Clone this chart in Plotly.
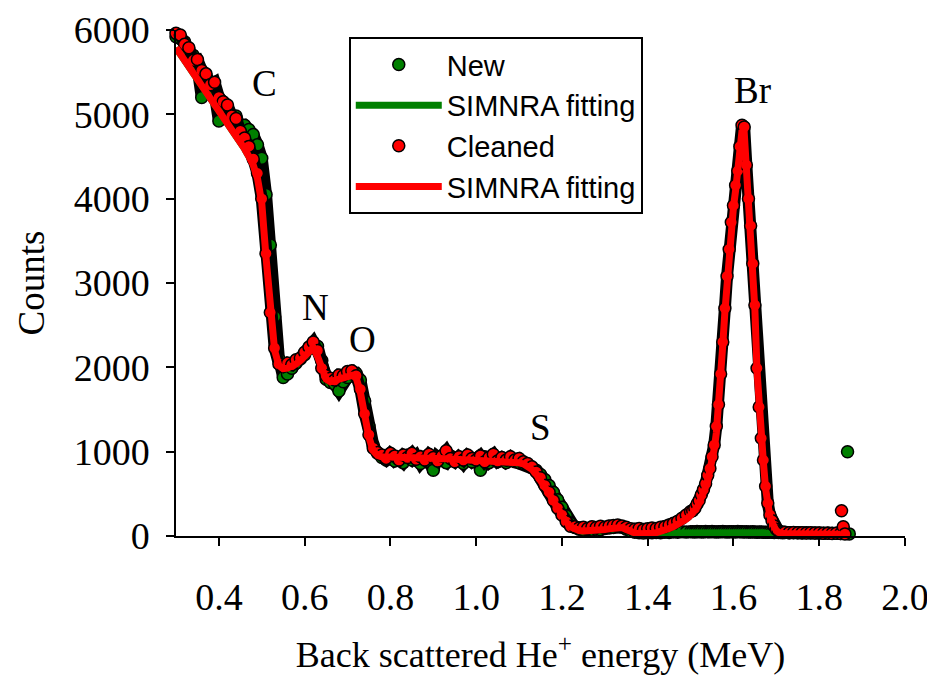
import plotly.graph_objects as go

# ---------------- data ----------------
energy = [
    0.30, 0.31, 0.32, 0.33, 0.34, 0.35, 0.36, 0.37, 0.38, 0.39,
    0.40, 0.41, 0.42, 0.43, 0.44, 0.45, 0.46, 0.47, 0.48, 0.49,
    0.50, 0.51, 0.52, 0.53, 0.54, 0.55, 0.56, 0.57, 0.58, 0.59,
    0.60, 0.61, 0.62, 0.63, 0.64, 0.65, 0.66, 0.67, 0.68, 0.69,
    0.70, 0.71, 0.72, 0.73, 0.74, 0.75, 0.76, 0.77, 0.78, 0.79,
    0.80, 0.81, 0.82, 0.83, 0.84, 0.85, 0.86, 0.87, 0.88, 0.89,
    0.90, 0.91, 0.92, 0.93, 0.94, 0.95, 0.96, 0.97, 0.98, 0.99,
    1.00, 1.01, 1.02, 1.03, 1.04, 1.05, 1.06, 1.07, 1.08, 1.09,
    1.10, 1.11, 1.12, 1.13, 1.14, 1.15, 1.16, 1.17, 1.18, 1.19,
    1.20, 1.21, 1.22, 1.23, 1.24, 1.25, 1.26, 1.27, 1.28, 1.29,
    1.30, 1.31, 1.32, 1.33, 1.34, 1.35, 1.36, 1.37, 1.38, 1.39,
    1.40, 1.41, 1.42, 1.43, 1.44, 1.45, 1.46, 1.47, 1.48, 1.49,
    1.50,
    1.505, 1.51, 1.515, 1.52, 1.525, 1.53, 1.535, 1.54, 1.545, 1.55,
    1.555, 1.56, 1.565, 1.57, 1.575, 1.58, 1.585, 1.59, 1.595, 1.60,
    1.605, 1.61, 1.615, 1.62, 1.625, 1.63, 1.635, 1.64, 1.645, 1.65,
    1.655, 1.66, 1.665, 1.67, 1.675, 1.68, 1.685, 1.69, 1.695, 1.70,
    1.705, 1.71, 1.715, 1.72,
    1.73, 1.74, 1.75, 1.76, 1.77, 1.78, 1.79, 1.80, 1.81, 1.82,
    1.83, 1.84, 1.85,
]

counts_new = [
    5920, 5900, 5860, 5720, 5700, 5560, 5200, 5420, 5300, 5250,
    4920, 5100, 5050, 4900, 4980, 4850, 4870, 4820, 4760, 4640,
    4480, 4050, 3450, 2600, 2100, 1880, 1920, 1990, 2050, 2100,
    2150, 2230, 2280, 2250, 2080, 1860, 1820, 1800, 1720, 1830,
    1880, 1920, 1930, 1850, 1600, 1300, 1080, 980, 930, 900,
    950, 890, 920, 870, 940, 900, 950, 860, 920, 880,
    780, 940, 900, 870, 950, 900, 920, 860, 930, 880,
    920, 780, 940, 870, 910, 880, 920, 870, 900, 880,
    870, 860, 840, 810, 780, 730, 670, 600, 520, 430,
    340, 240, 150, 100, 80, 70, 75, 70, 80, 75,
    90, 95, 100, 110, 105, 80, 60, 45, 40, 35,
    40, 38, 42, 40, 45, 42, 48, 45, 50, 46,
    50,
    50, 47, 52, 49, 51, 48, 53, 50, 49, 52,
    50, 48, 51, 49, 52, 50, 47, 51, 49, 50,
    48, 52, 50, 49, 47, 50, 48, 46, 49, 47,
    45, 48, 46, 44, 45, 43, 46, 44, 42, 43,
    41, 42, 40, 41,
    40, 38, 39, 37, 38, 36, 35, 37, 34, 35,
    33, 32, 30,
]
energy_new_tail = [1.86, 1.866, 1.87]
counts_new_tail = [35, 1000, 25]

counts_cleaned = [
    5960, 5940, 5830, 5790, 5640, 5650, 5520, 5480, 5350, 5380,
    5200, 5150, 5110, 4980, 4950, 4800, 4720, 4620, 4470, 4300,
    4000, 3350, 2650, 2230, 2040, 2010, 2050, 2030, 2090, 2110,
    2180, 2240, 2300, 2200, 1990, 1900, 1870, 1850, 1910, 1900,
    1950, 1960, 1900, 1740, 1450, 1200, 1040, 990, 960, 920,
    980, 950, 900, 960, 930, 980, 910, 940, 900, 970,
    930, 890, 950, 1010, 920, 880, 940, 900, 960, 920,
    900, 950, 880, 930, 970, 890, 930, 900, 940, 900,
    920, 880, 860, 820, 760, 690, 600, 520, 420, 330,
    250, 170, 115, 110, 95, 105, 90, 110, 100, 115,
    105, 120, 125, 130, 120, 105, 85, 80, 90, 75,
    85, 95, 90, 105, 110, 130, 150, 175, 210, 250,
    290,
    300, 330, 380, 420, 490, 550, 620, 720, 800, 940,
    1080, 1300, 1560, 1920, 2300, 2700, 3080, 3400, 3720, 3920,
    4160, 4330, 4620, 4870, 4850, 4400, 4000, 3680, 3230, 2740,
    1990, 1530, 1160, 900, 590, 390, 250, 180, 120, 80,
    60, 50, 45, 45,
    40, 42, 38, 40, 36, 38, 35, 36, 33, 34,
    30, 32, 30,
]
energy_cleaned_tail = [1.852, 1.856, 1.86]
counts_cleaned_tail = [300, 110, 25]

fit_cleaned = [
    5790, 5715, 5640, 5560, 5485, 5410, 5335, 5265, 5190, 5125,
    5055, 4985, 4920, 4845, 4765, 4680, 4590, 4500, 4400, 4240,
    3950, 3300, 2620, 2200, 2020, 1985, 1990, 2010, 2040, 2080,
    2130, 2190, 2235, 2130, 1960, 1860, 1830, 1840, 1860, 1875,
    1890, 1905, 1880, 1700, 1420, 1170, 1010, 955, 940, 937,
    935, 933, 932, 930, 929, 927, 926, 924, 923, 921,
    920, 918, 917, 915, 914, 912, 911, 909, 908, 906,
    905, 903, 902, 900, 898, 896, 893, 889, 884, 877,
    868, 855, 830, 790, 735, 665, 590, 505, 415, 325,
    240, 165, 110, 80, 65, 60, 60, 63, 67, 72,
    78, 85, 95, 105, 100, 78, 52, 36, 28, 25,
    27, 32, 40, 52, 68, 88, 110, 135, 165, 200,
    245,
    270, 300, 340, 390, 445, 510, 580, 660, 760, 880,
    1030, 1220, 1500, 1860, 2260, 2660, 3020, 3370, 3660, 3900,
    4100, 4300, 4570, 4810, 4790, 4350, 3960, 3620, 3200, 2680,
    1950, 1480, 1130, 860, 560, 360, 230, 160, 100, 62,
    42, 33, 29, 27,
    26, 25, 25, 24, 24, 23, 23, 22, 22, 21,
    21, 20, 20,
]

fit_new = [
    5790, 5715, 5640, 5560, 5485, 5410, 5335, 5265, 5190, 5125,
    5055, 4985, 4920, 4845, 4765, 4680, 4590, 4500, 4400, 4240,
    3950, 3300, 2620, 2200, 2020, 1985, 1990, 2010, 2040, 2080,
    2130, 2190, 2235, 2130, 1960, 1860, 1830, 1840, 1860, 1875,
    1890, 1905, 1880, 1700, 1420, 1170, 1010, 955, 940, 937,
    935, 933, 932, 930, 929, 927, 926, 924, 923, 921,
    920, 918, 917, 915, 914, 912, 911, 909, 908, 906,
    905, 903, 902, 900, 898, 896, 893, 889, 884, 877,
    868, 855, 830, 790, 735, 665, 590, 505, 415, 325,
    240, 165, 110, 80, 65, 60, 60, 63, 67, 72,
    78, 85, 95, 105, 100, 78, 52, 36, 30, 28,
    28, 30, 32, 34, 36, 37, 38, 39, 40, 40,
    41,
    41, 41, 41, 41, 41, 41, 41, 41, 41, 41,
    41, 41, 41, 41, 41, 40, 40, 40, 40, 40,
    40, 40, 40, 40, 40, 39, 39, 39, 39, 39,
    38, 38, 38, 38, 37, 37, 37, 37, 36, 36,
    36, 36, 35, 35,
    34, 33, 32, 31, 30, 29, 28, 27, 26, 25,
    25, 24, 24,
]

peak_labels = ["C", "N", "O", "S", "Br"]
peak_label_x = [0.507, 0.626, 0.735, 1.151, 1.645]
peak_label_y = [5360, 2715, 2336, 1281, 5277]

# ---------------- styling ----------------
GREEN = "#008000"
RED = "#ff0000"
SERIF = "Liberation Serif, Times New Roman, serif"
SANS = "Liberation Sans, Arial, sans-serif"

x_new = energy + energy_new_tail
y_new = counts_new + counts_new_tail
x_cl = energy + energy_cleaned_tail
y_cl = counts_cleaned + counts_cleaned_tail

fig = go.Figure()

# New data (black underlay joins the dense points)
fig.add_trace(go.Scatter(x=energy, y=counts_new, mode="lines",
                         line=dict(color="black", width=12),
                         showlegend=False, hoverinfo="skip"))
fig.add_trace(go.Scatter(x=x_new, y=y_new, mode="markers", name="New",
                         cliponaxis=False,
                         marker=dict(color=GREEN, size=12,
                                     line=dict(color="black", width=1.5))))
fig.add_trace(go.Scatter(x=energy, y=fit_new, mode="lines", name="SIMNRA fitting",
                         line=dict(color=GREEN, width=7)))
# Cleaned data
fig.add_trace(go.Scatter(x=energy, y=counts_cleaned, mode="lines",
                         line=dict(color="black", width=12),
                         showlegend=False, hoverinfo="skip"))
fig.add_trace(go.Scatter(x=x_cl, y=y_cl, mode="markers", name="Cleaned",
                         cliponaxis=False,
                         marker=dict(color=RED, size=12,
                                     line=dict(color="black", width=1.5))))
fig.add_trace(go.Scatter(x=energy, y=fit_cleaned, mode="lines", name="SIMNRA fitting",
                         line=dict(color=RED, width=7)))

for t, xv, yv in zip(peak_labels, peak_label_x, peak_label_y):
    fig.add_annotation(x=xv, y=yv, text=t, showarrow=False,
                       font=dict(family=SERIF, size=37, color="black"))

# the page body has an 8px margin, so the figure is 8px smaller and the
# margins are shifted to put the axes where the reference has them
fig.update_layout(
    template="none",
    width=927, height=667,
    margin=dict(l=168, r=30, t=22, b=139),
    paper_bgcolor="white", plot_bgcolor="white",
    font=dict(family=SERIF, size=36, color="black"),
    legend=dict(x=0.237, y=0.986, xanchor="left", yanchor="top",
                font=dict(family=SANS, size=29, color="black"),
                bordercolor="black", borderwidth=2, bgcolor="white",
                itemwidth=86, entrywidth=205, entrywidthmode="pixels"),
    xaxis=dict(range=[0.3, 2.0], dtick=0.2, tick0=0.0, tickformat=".1f",
               automargin=False,
               showgrid=False, zeroline=False, showline=True,
               linecolor="black", linewidth=1.5,
               ticks="outside", ticklen=8, tickwidth=1.5, tickcolor="black",
               ticklabelstandoff=19,
               tickfont=dict(family=SERIF, size=38),
               title=dict(text="Back scattered He<sup>+</sup> energy (MeV)",
                          font=dict(family=SERIF, size=36), standoff=32)),
    yaxis=dict(range=[0, 6000], dtick=1000, tickformat="d",
               automargin=False,
               showgrid=False, zeroline=False, showline=True,
               linecolor="black", linewidth=1.5,
               ticks="outside", ticklen=8, tickwidth=1.5, tickcolor="black",
               ticklabelstandoff=9,
               tickfont=dict(family=SERIF, size=38),
               title=dict(text="Counts", font=dict(family=SERIF, size=37),
                          standoff=18)),
)

fig.write_html("out.html")
